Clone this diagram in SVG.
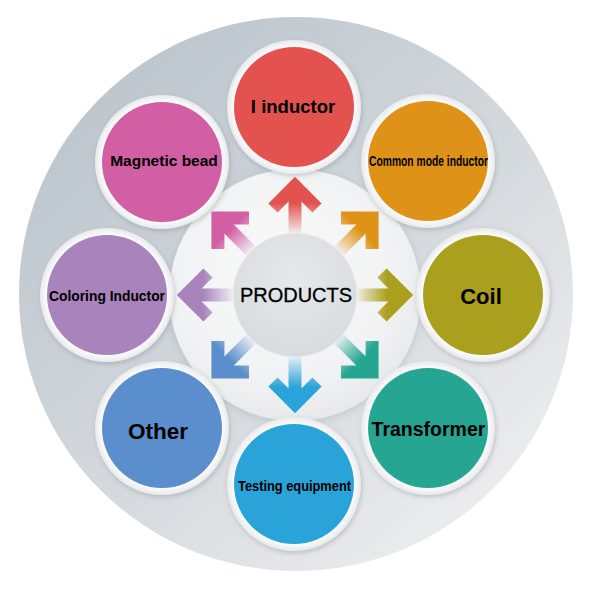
<svg xmlns="http://www.w3.org/2000/svg" width="590" height="590" viewBox="0 0 590 590">
  <defs>
    <linearGradient id="bgGrad" x1="0.15" y1="0.1" x2="0.85" y2="0.9">
      <stop offset="0" stop-color="#BCC6CD"/>
      <stop offset="0.55" stop-color="#D4D9DD"/>
      <stop offset="1" stop-color="#EDEDEF"/>
    </linearGradient>
    <radialGradient id="discGrad" cx="0.45" cy="0.4" r="0.65">
      <stop offset="0" stop-color="#FAFAFA"/>
      <stop offset="0.7" stop-color="#F1F2F3"/>
      <stop offset="1" stop-color="#E4E6E8"/>
    </radialGradient>
    <radialGradient id="hubGrad" cx="0.5" cy="0.35" r="0.7">
      <stop offset="0" stop-color="#E6E9EB"/>
      <stop offset="1" stop-color="#D5DADD"/>
    </radialGradient>
    <radialGradient id="ringGrad" cx="0.5" cy="0.5" r="0.5">
      <stop offset="0.88" stop-color="#FFFFFF"/>
      <stop offset="1" stop-color="#E8E9EB"/>
    </radialGradient>
    <linearGradient id="fadeGrad" gradientUnits="userSpaceOnUse" x1="0" y1="-60" x2="0" y2="-92">
      <stop offset="0" stop-color="#000"/>
      <stop offset="0.25" stop-color="#444"/>
      <stop offset="1" stop-color="#FFF"/>
    </linearGradient>
    <mask id="fade" maskUnits="userSpaceOnUse" x="-200" y="-200" width="400" height="400">
      <rect x="-200" y="-200" width="400" height="400" fill="url(#fadeGrad)"/>
    </mask>
    <filter id="shadow" x="-20%" y="-20%" width="140%" height="140%">
      <feDropShadow dx="1" dy="2" stdDeviation="2.5" flood-color="#6E7880" flood-opacity="0.35"/>
    </filter>
    <filter id="softShadow" x="-20%" y="-20%" width="140%" height="140%">
      <feDropShadow dx="0" dy="2" stdDeviation="4" flood-color="#8A949B" flood-opacity="0.35"/>
    </filter>
    <g id="arrowShape">
      <line x1="0" y1="-58" x2="0" y2="-108" stroke-width="13"/>
      <polyline points="-22,-87 0,-109 22,-87" fill="none" stroke-width="13" stroke-linejoin="miter" stroke-miterlimit="4"/>
    </g>
  </defs>
  <style>
    .ring { fill: url(#ringGrad); filter: url(#shadow); }
    .lbl { font-family: "Liberation Sans", Arial, sans-serif; font-weight: bold; fill: #000; text-anchor: middle; }
    .hubtxt { font-family: "Liberation Sans", Arial, sans-serif; font-size: 20px; fill: #000; text-anchor: middle; stroke: #000; stroke-width: 0.3; }
  </style>

  <!-- background -->
  <circle cx="296" cy="294" r="277" fill="url(#bgGrad)"/>
  <circle cx="295" cy="295" r="126" fill="url(#discGrad)" filter="url(#softShadow)"/>

  <!-- connectors (arrows) -->
  <g id="connectors" transform="translate(295 295)">
    <g transform="rotate(0)" mask="url(#fade)" stroke="#E3524F"><use href="#arrowShape"/></g>
    <g transform="rotate(45)" mask="url(#fade)" stroke="#DF9218"><use href="#arrowShape"/></g>
    <g transform="rotate(90)" mask="url(#fade)" stroke="#AB9F1E"><use href="#arrowShape"/></g>
    <g transform="rotate(135)" mask="url(#fade)" stroke="#26A592"><use href="#arrowShape"/></g>
    <g transform="rotate(180)" mask="url(#fade)" stroke="#2AA4D8"><use href="#arrowShape"/></g>
    <g transform="rotate(225)" mask="url(#fade)" stroke="#5A8ECC"><use href="#arrowShape"/></g>
    <g transform="rotate(270)" mask="url(#fade)" stroke="#A883BC"><use href="#arrowShape"/></g>
    <g transform="rotate(315)" mask="url(#fade)" stroke="#D25EA3"><use href="#arrowShape"/></g>
  </g>

  <!-- hub -->
  <g id="hub">
    <circle cx="295" cy="295" r="62" fill="url(#hubGrad)" stroke="#E9EBED" stroke-width="1"/>
    <text class="hubtxt" x="296" y="302">PRODUCTS</text>
  </g>

  <g id="node-i-inductor">
    <circle class="ring" cx="294" cy="107" r="67"/>
    <circle cx="294" cy="107" r="60" fill="#E3524F"/>
    <text class="lbl" x="293" y="113" font-size="18.5">I inductor</text>
  </g>
  <g id="node-common-mode-inductor">
    <circle class="ring" cx="428" cy="161" r="67"/>
    <circle cx="428" cy="161" r="60" fill="#DF9218"/>
    <text class="lbl" x="428.5" y="166" font-size="14" font-weight="normal" textLength="119" lengthAdjust="spacingAndGlyphs">Common mode inductor</text>
  </g>
  <g id="node-coil">
    <circle class="ring" cx="483" cy="295" r="67"/>
    <circle cx="483" cy="295" r="60" fill="#AB9F1E"/>
    <text class="lbl" x="481" y="304" font-size="22">Coil</text>
  </g>
  <g id="node-transformer">
    <circle class="ring" cx="428" cy="428" r="67"/>
    <circle cx="428" cy="428" r="60" fill="#26A592"/>
    <text class="lbl" x="428.5" y="436" font-size="19.5">Transformer</text>
  </g>
  <g id="node-testing-equipment">
    <circle class="ring" cx="294" cy="484" r="67"/>
    <circle cx="294" cy="484" r="60" fill="#2AA4D8"/>
    <text class="lbl" x="294.5" y="491" font-size="14" textLength="113" lengthAdjust="spacingAndGlyphs">Testing equipment</text>
  </g>
  <g id="node-other">
    <circle class="ring" cx="162" cy="428" r="67"/>
    <circle cx="162" cy="428" r="60" fill="#5A8ECC"/>
    <text class="lbl" x="158" y="439" font-size="22.5">Other</text>
  </g>
  <g id="node-coloring-inductor">
    <circle class="ring" cx="107" cy="295" r="67"/>
    <circle cx="107" cy="295" r="60" fill="#A883BC"/>
    <text class="lbl" x="107" y="301" font-size="14" textLength="116" lengthAdjust="spacingAndGlyphs">Coloring Inductor</text>
  </g>
  <g id="node-magnetic-bead">
    <circle class="ring" cx="162" cy="162" r="67"/>
    <circle cx="162" cy="162" r="60" fill="#D25EA3"/>
    <text class="lbl" x="164" y="166" font-size="15.5">Magnetic bead</text>
  </g>
</svg>
